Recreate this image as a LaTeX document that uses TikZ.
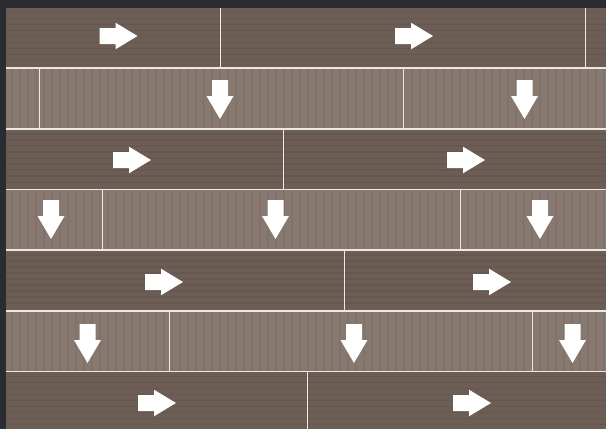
\documentclass[tikz,border=0pt]{standalone}
\definecolor{bg}{HTML}{2B2C31}
\definecolor{darkplank}{HTML}{6C5D55}
\definecolor{lightplank}{HTML}{877870}
\definecolor{grainD}{HTML}{5A4C45}
\definecolor{grainL}{HTML}{766860}
\definecolor{joint}{HTML}{ECE8E4}
\tikzset{
  jointline/.style={draw=joint, line width=1.5pt},
  grainH/.style={draw=grainD, line width=1.2pt, opacity=0.3},
  grainV/.style={draw=grainL, line width=1.2pt, opacity=0.35},
  rarrow/.pic={\fill[white] (-19,-8) -- (-3,-8) -- (-3,-13.3) -- (19,0) -- (-3,13.3) -- (-3,8) -- (-19,8) -- cycle;},
  darrow/.pic={\fill[white] (-8,-19.5) -- (-8,-3.5) -- (-13.5,-3.5) -- (0,19.5) -- (13.5,-3.5) -- (8,-3.5) -- (8,-19.5) -- cycle;}
}
\begin{document}
\begin{tikzpicture}[x=1pt,y=-1pt]
\useasboundingbox (0,0) rectangle (606,429);
\fill[bg] (0,0) rectangle (606,429);
% dark rows (horizontal boards)
\foreach \a/\b in {7.5/68, 129/189.5, 250/311, 371.5/429}{
  \fill[darkplank] (6,\a) rectangle (606,\b);
  \foreach \k in {5,11,...,58}{
    \pgfmathsetmacro\yy{\a+\k}
    \pgfmathparse{\yy<\b ? 1 : 0}
    \ifnum\pgfmathresult=1 \draw[grainH] (6,\yy) -- (606,\yy);\fi
  }
}
% light rows (vertical boards)
\foreach \a/\b in {68/129, 189.5/250, 311/371.5}{
  \fill[lightplank] (6,\a) rectangle (606,\b);
  \foreach \xx in {12,20,...,604}{
    \draw[grainV] (\xx,\a) -- (\xx,\b);
  }
}
% horizontal joints
\foreach \y in {68,129,189.5,250,311,371.5}{
  \draw[jointline] (6,\y) -- (606,\y);
}
% vertical joints
\draw[jointline] (220.5,7.5) -- (220.5,68);
\draw[jointline] (585.5,7.5) -- (585.5,68);
\draw[jointline] (39.5,68) -- (39.5,129);
\draw[jointline] (403.5,68) -- (403.5,129);
\draw[jointline] (283.5,129) -- (283.5,189.5);
\draw[jointline] (102.5,189.5) -- (102.5,250);
\draw[jointline] (460.5,189.5) -- (460.5,250);
\draw[jointline] (344.5,250) -- (344.5,311);
\draw[jointline] (169.5,311) -- (169.5,371.5);
\draw[jointline] (532.5,311) -- (532.5,371.5);
\draw[jointline] (307.5,371.5) -- (307.5,429);
% arrows
\pic at (118.5,36) {rarrow};
\pic at (414,36) {rarrow};
\pic at (220,99.5) {darrow};
\pic at (524.5,99.5) {darrow};
\pic at (132,160) {rarrow};
\pic at (466,160) {rarrow};
\pic at (51,219.5) {darrow};
\pic at (275.5,219.5) {darrow};
\pic at (540,219.5) {darrow};
\pic at (164,282) {rarrow};
\pic at (492,282) {rarrow};
\pic at (87.5,343.5) {darrow};
\pic at (354,343.5) {darrow};
\pic at (572.5,343.5) {darrow};
\pic at (157,403) {rarrow};
\pic at (472,403) {rarrow};
\end{tikzpicture}
\end{document}
